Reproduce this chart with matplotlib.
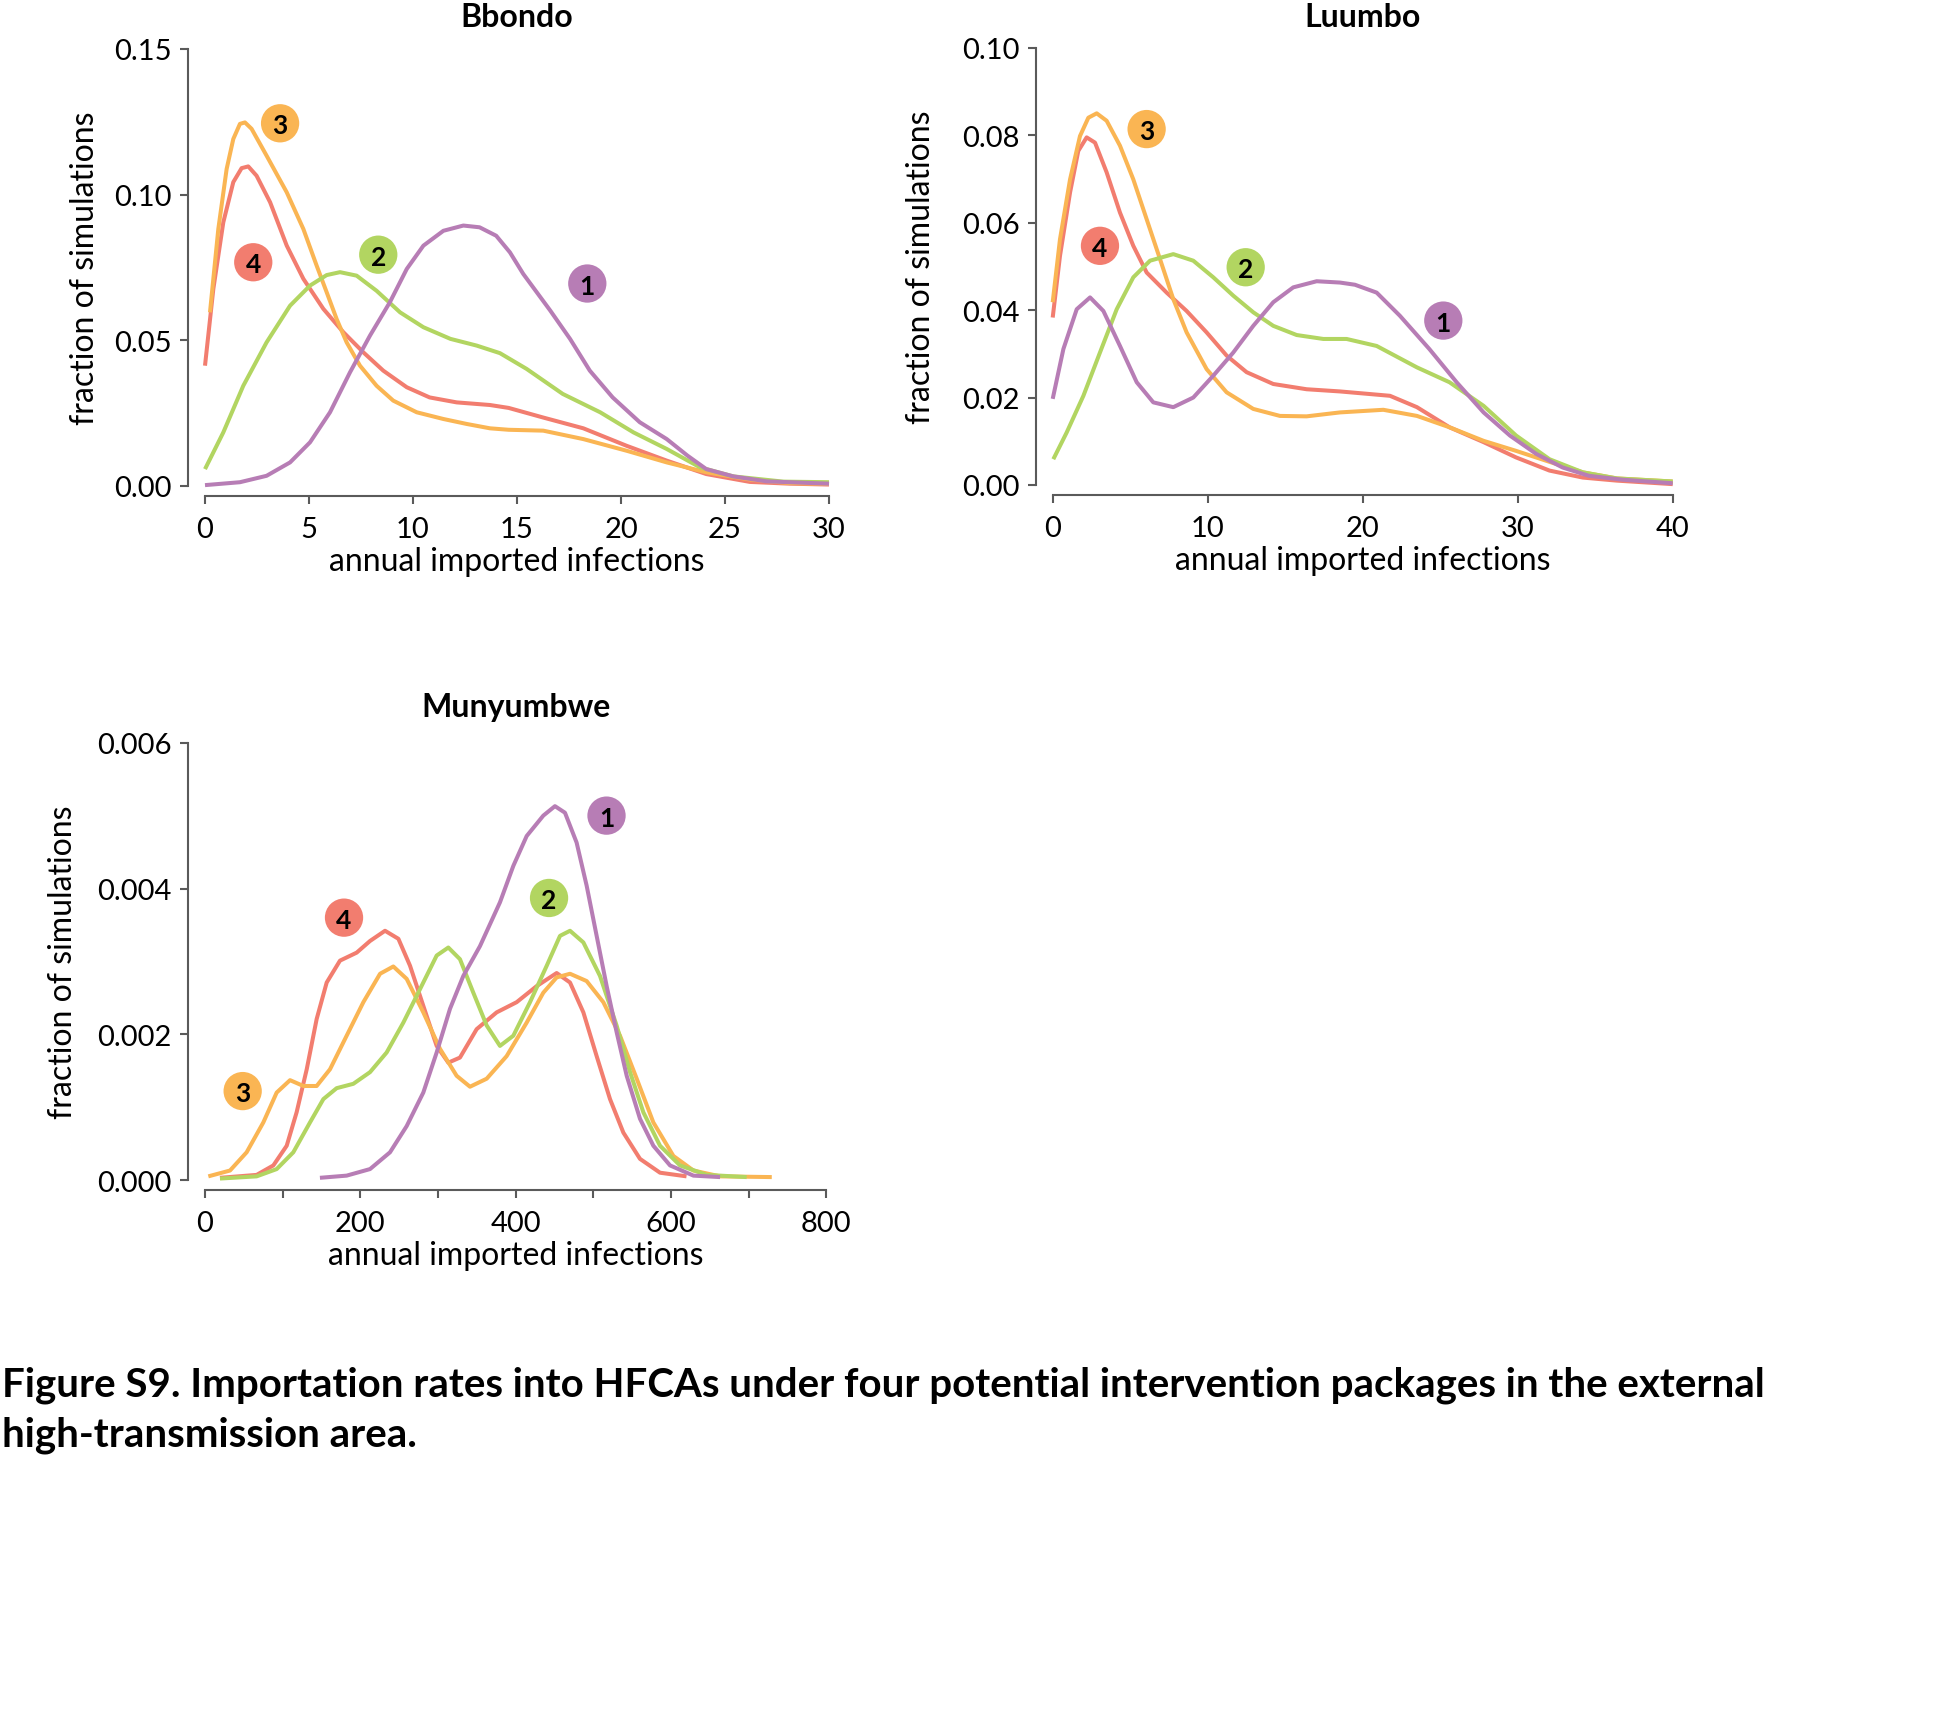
import matplotlib
matplotlib.use('Agg')
import matplotlib.pyplot as plt

plt.rcParams['font.family'] = ['Lato', 'DejaVu Sans']

# package colours: 1 purple, 2 green, 3 orange, 4 red
colors = {1: '#b77db5', 2: '#b2d561', 3: '#fab553', 4: '#f27d6f'}

# ---- Bbondo
bbondo_x1 = [0, 1.68, 2.96, 4.09, 5.05, 6.01, 6.97, 7.93, 8.89, 9.7, 10.5, 11.46, 12.42, 13.2, 14.0, 14.66,
             15.3, 16.6, 17.55, 18.5, 19.6, 20.9, 22.2, 23.2, 24.1, 25.4, 27.0, 30]
bbondo_y1 = [0.0003, 0.0013, 0.0035, 0.0081, 0.0150, 0.0253, 0.0390, 0.0516, 0.0631, 0.0745, 0.0825, 0.0876,
             0.0894, 0.0888, 0.0859, 0.0802, 0.0728, 0.0602, 0.0505, 0.0396, 0.0304, 0.0219, 0.0161, 0.0104,
             0.0058, 0.0033, 0.0016, 0.0008]
bbondo_x2 = [0, 0.88, 1.84, 2.96, 4.09, 5.05, 5.85, 6.49, 7.29, 8.25, 9.38, 10.5, 11.8, 13.06, 14.18, 15.46,
             17.2, 19.0, 20.6, 22.2, 23.8, 25.4, 27.8, 30]
bbondo_y2 = [0.0058, 0.0184, 0.0344, 0.0493, 0.0619, 0.0688, 0.0724, 0.0734, 0.0722, 0.0670, 0.0596, 0.0545,
             0.0505, 0.0482, 0.0456, 0.0402, 0.0316, 0.0253, 0.0184, 0.0127, 0.0064, 0.0033, 0.0015, 0.0013]
bbondo_x3 = [0.24, 0.64, 1.04, 1.36, 1.68, 1.92, 2.24, 2.96, 3.93, 4.73, 5.37, 5.85, 6.33, 6.81, 7.45, 8.25,
             9.05, 10.18, 11.46, 12.58, 13.7, 14.6, 16.26, 18.19, 20.27, 22.2, 24.1, 26.2, 28.1, 30]
bbondo_y3 = [0.0596, 0.0882, 0.1088, 0.1191, 0.1243, 0.1248, 0.1226, 0.1134, 0.1008, 0.0882, 0.0756, 0.0665,
             0.0573, 0.0493, 0.0413, 0.0344, 0.0293, 0.0253, 0.0230, 0.0213, 0.0198, 0.0193, 0.0190, 0.0161,
             0.0121, 0.0081, 0.0047, 0.0022, 0.0010, 0.0007]
bbondo_x4 = [0, 0.40, 0.88, 1.36, 1.76, 2.08, 2.48, 3.13, 3.93, 4.73, 5.69, 6.65, 7.61, 8.57, 9.7, 10.8, 12.1,
             13.7, 14.6, 16.26, 18.19, 20.27, 22.2, 24.1, 26.2, 28.1, 30]
bbondo_y4 = [0.0413, 0.0676, 0.0905, 0.1043, 0.1091, 0.1097, 0.1065, 0.0974, 0.0825, 0.0711, 0.0608, 0.0528,
             0.0459, 0.0396, 0.0339, 0.0304, 0.0287, 0.0278, 0.0268, 0.0235, 0.0198, 0.0138, 0.0087, 0.0041,
             0.0014, 0.0008, 0.0005]
bbondo_tags = {1: (18.38, 0.0695), 2: (8.33, 0.0794), 3: (3.61, 0.1245), 4: (2.32, 0.0768)}

# ---- Luumbo
luumbo_x1 = [0, 0.69, 1.55, 2.41, 3.27, 4.34, 5.42, 6.49, 7.78, 9.07, 10.36, 11.65, 12.94, 14.23, 15.52, 17.03,
             18.53, 19.5, 20.9, 22.4, 24.3, 26.06, 27.8, 29.5, 31.2, 32.9, 34.6, 36.8, 40]
luumbo_y1 = [0.0197, 0.0311, 0.0402, 0.0429, 0.0398, 0.0318, 0.0235, 0.0189, 0.0178, 0.0200, 0.0250, 0.0303,
             0.0364, 0.0418, 0.0452, 0.0466, 0.0463, 0.0458, 0.0440, 0.0387, 0.0311, 0.0235, 0.0166, 0.0113,
             0.0071, 0.0040, 0.0021, 0.0012, 0.0004]
luumbo_x2 = [0.04, 0.9, 1.98, 3.05, 4.13, 5.2, 6.28, 7.78, 9.07, 10.36, 11.65, 12.94, 14.23, 15.74, 17.46, 18.96,
             20.9, 23.5, 25.6, 27.8, 29.9, 32.05, 34.2, 36.4, 40]
luumbo_y2 = [0.0059, 0.0120, 0.0204, 0.0303, 0.0402, 0.0475, 0.0513, 0.0528, 0.0513, 0.0475, 0.0433, 0.0395,
             0.0364, 0.0343, 0.0334, 0.0334, 0.0318, 0.0269, 0.0235, 0.0181, 0.0113, 0.0059, 0.0029, 0.0015,
             0.0008]
luumbo_x3 = [0, 0.47, 1.12, 1.76, 2.30, 2.84, 3.48, 4.34, 5.2, 6.06, 6.92, 7.78, 8.64, 9.93, 11.22, 12.94, 14.66,
             16.38, 18.53, 21.33, 23.5, 25.6, 27.8, 29.9, 32.05, 34.2, 36.4, 40]
luumbo_y3 = [0.0418, 0.0562, 0.0699, 0.0798, 0.0840, 0.0850, 0.0833, 0.0776, 0.0699, 0.0608, 0.0517, 0.0425,
             0.0349, 0.0265, 0.0212, 0.0174, 0.0158, 0.0157, 0.0166, 0.0172, 0.0158, 0.0132, 0.0101, 0.0078,
             0.0053, 0.0029, 0.0015, 0.0008]
luumbo_x4 = [0, 0.47, 1.12, 1.65, 2.19, 2.73, 3.48, 4.34, 5.2, 6.06, 7.35, 8.64, 9.93, 11.22, 12.51, 14.23,
             16.38, 18.53, 20.47, 21.76, 23.5, 25.6, 27.8, 29.9, 32.05, 34.2, 36.4, 40]
luumbo_y4 = [0.0383, 0.0524, 0.0669, 0.0764, 0.0795, 0.0783, 0.0715, 0.0623, 0.0547, 0.0486, 0.0440, 0.0398,
             0.0349, 0.0296, 0.0258, 0.0231, 0.0219, 0.0214, 0.0208, 0.0204, 0.0178, 0.0132, 0.0098, 0.0063,
             0.0033, 0.0017, 0.0010, 0.0002]
luumbo_tags = {1: (25.2, 0.0376), 2: (12.45, 0.0498), 3: (6.06, 0.0814), 4: (3.05, 0.0547)}

# ---- Munyumbwe
muny_x1 = [148, 182.4, 212.5, 238.2, 259.7, 281.1, 298.3, 315.5, 332.6, 354.1, 379.8, 397, 414.2, 435.6, 450.6,
           463.5, 478.5, 491.4, 504.3, 517.2, 530, 543, 560.1, 577.3, 598.8, 628.9, 663.2]
muny_y1 = [0.00003, 0.00006, 0.00015, 0.00038, 0.00074, 0.0012, 0.00175, 0.00235, 0.0028, 0.00321, 0.00381,
           0.00431, 0.00472, 0.005, 0.00513, 0.00504, 0.00463, 0.00404, 0.00335, 0.00266, 0.00203, 0.00143,
           0.00084, 0.00047, 0.0002, 0.00006, 0.00004]
muny_x2 = [19.3, 66.5, 92.3, 113.7, 135.2, 152.4, 169.5, 191, 212.5, 233.9, 255.4, 276.9, 298.3, 313.3, 328.3,
           345.5, 362.7, 379.8, 397, 418.5, 440, 457.1, 470, 487.2, 508.6, 530, 547.3, 564.4, 585.9, 611.6,
           646, 697.5]
muny_y2 = [0.00002, 0.00005, 0.00015, 0.00038, 0.00079, 0.00111, 0.00126, 0.00132, 0.00148, 0.00175, 0.00216,
           0.00262, 0.00308, 0.00319, 0.00303, 0.00257, 0.00212, 0.00184, 0.00198, 0.00244, 0.00294, 0.00335,
           0.00342, 0.00326, 0.0028, 0.00212, 0.00148, 0.00093, 0.00047, 0.0002, 0.00007, 0.00004]
muny_x3 = [4.3, 32.2, 53.6, 75.1, 92.3, 109.5, 126.7, 143.8, 161, 182.4, 203.9, 225.4, 242.5, 259.7, 281.1,
           302.6, 324, 341.2, 362.7, 388.4, 414.2, 435.6, 452.8, 470, 491.4, 512.9, 534.4, 555.9, 577.3, 603.1,
           628.9, 663.2, 729.8]
muny_y3 = [0.00005, 0.00013, 0.00038, 0.00079, 0.0012, 0.00137, 0.00129, 0.00129, 0.00152, 0.00198, 0.00244,
           0.00283, 0.00293, 0.00276, 0.0023, 0.0018, 0.00143, 0.00128, 0.00139, 0.0017, 0.00216, 0.00257,
           0.00278, 0.00283, 0.00273, 0.00244, 0.00198, 0.00139, 0.00079, 0.00033, 0.00013, 0.00005, 0.00004]
muny_x4 = [19.3, 66.5, 88, 105.2, 118, 131, 143.8, 156.7, 173.8, 195.3, 212.5, 231.8, 249, 264, 281.1, 298.3,
           313.3, 328.3, 349.8, 375.5, 401.3, 427, 452.8, 470, 487.2, 504.3, 521.5, 538.7, 560.1, 585.9, 620]
muny_y4 = [0.00003, 0.00007, 0.0002, 0.00047, 0.00093, 0.00152, 0.00221, 0.00271, 0.00301, 0.00312, 0.00328,
           0.00342, 0.00331, 0.00294, 0.00239, 0.00184, 0.00161, 0.00168, 0.00207, 0.0023, 0.00244, 0.00266,
           0.00284, 0.00271, 0.0023, 0.0017, 0.00111, 0.00065, 0.00029, 0.0001, 0.00005]
muny_tags = {1: (517, 0.0050), 2: (443, 0.00387), 3: (48.5, 0.00122), 4: (179, 0.0036)}

bbondo_xticks = [0, 5, 10, 15, 20, 25, 30]
bbondo_yticks = [0.00, 0.05, 0.10, 0.15]
luumbo_xticks = [0, 10, 20, 30, 40]
luumbo_yticks = [0.00, 0.02, 0.04, 0.06, 0.08, 0.10]
muny_xticks = [0, 100, 200, 300, 400, 500, 600, 700, 800]
muny_xticklabels = ['0', '', '200', '', '400', '', '600', '', '800']
muny_yticks = [0.000, 0.002, 0.004, 0.006]

caption_1 = 'Figure S9. Importation rates into HFCAs under four potential intervention packages in the external'
caption_2 = 'high-transmission area.'

W, H = 1954, 1731
spine_col = '#5a5a5a'
zorders = {4: 2, 3: 3, 2: 4, 1: 5}


def panel(rect, title, title_off, curves, tags, xticks, xlabels, yticks, yfmt, ylab_x):
    # rect in pixels: left, top, right, bottom
    l, t, r, b = rect
    ax = fig.add_axes([l / W, 1 - b / H, (r - l) / W, (b - t) / H])
    for k, (xs, ys) in curves.items():
        ax.plot(xs, ys, color=colors[k], lw=2.9, zorder=zorders[k], clip_on=False,
                solid_capstyle='butt', solid_joinstyle='round')
    for k, (tx, ty) in tags.items():
        ax.scatter([tx], [ty], s=760, color=colors[k], edgecolors='none', zorder=6, clip_on=False)
        ax.text(tx, ty, str(k), ha='center', va='center_baseline', fontsize=19, fontweight='bold',
                color='black', zorder=7, clip_on=False)
    ax.set_xlim(xticks[0], xticks[-1])
    ax.set_ylim(yticks[0], yticks[-1])
    ax.set_xticks(xticks, labels=xlabels)
    ax.set_yticks(yticks, labels=[yfmt % v for v in yticks])
    for side in ['top', 'right']:
        ax.spines[side].set_visible(False)
    ax.spines['left'].set_position(('outward', 12.2))
    ax.spines['bottom'].set_position(('outward', 7.2))
    for side in ['left', 'bottom']:
        ax.spines[side].set_color(spine_col)
        ax.spines[side].set_linewidth(1.5)
    ax.tick_params(direction='out', length=5.8, width=1.5, color=spine_col, labelsize=21,
                   labelcolor='black')
    ax.tick_params(axis='y', pad=6)
    ax.tick_params(axis='x', pad=8.5)
    ax.set_xlabel('annual imported infections', fontsize=23, va='center')
    ax.xaxis.set_label_coords(0.5, -0.172)
    ax.set_ylabel('fraction of simulations', fontsize=23, va='center')
    ax.yaxis.set_label_coords(ylab_x, 0.5)
    ax.text(0.5, 1 + title_off / (b - t), title, transform=ax.transAxes, ha='center', va='center',
            fontsize=23, fontweight='bold')
    return ax


fig = plt.figure(figsize=(W / 100, H / 100), dpi=100)

panel((205, 50, 829, 487), 'Bbondo', 32.5,
      {4: (bbondo_x4, bbondo_y4), 3: (bbondo_x3, bbondo_y3), 2: (bbondo_x2, bbondo_y2), 1: (bbondo_x1, bbondo_y1)},
      bbondo_tags, bbondo_xticks, [str(v) for v in bbondo_xticks], bbondo_yticks, '%.2f', -0.192)

panel((1052.7, 48.75, 1672.7, 486), 'Luumbo', 31,
      {4: (luumbo_x4, luumbo_y4), 3: (luumbo_x3, luumbo_y3), 2: (luumbo_x2, luumbo_y2), 1: (luumbo_x1, luumbo_y1)},
      luumbo_tags, luumbo_xticks, [str(v) for v in luumbo_xticks], luumbo_yticks, '%.2f', -0.212)

panel((205, 743.75, 826.3, 1181), 'Munyumbwe', 36,
      {4: (muny_x4, muny_y4), 3: (muny_x3, muny_y3), 2: (muny_x2, muny_y2), 1: (muny_x1, muny_y1)},
      muny_tags, muny_xticks, muny_xticklabels, muny_yticks, '%.3f', -0.229)

fig.text(2 / W, 1 - 1385 / H, caption_1, ha='left', va='center', fontsize=29, fontweight='bold')
fig.text(2 / W, 1 - 1435 / H, caption_2, ha='left', va='center', fontsize=29, fontweight='bold')

fig.savefig('out.png', dpi=100)
